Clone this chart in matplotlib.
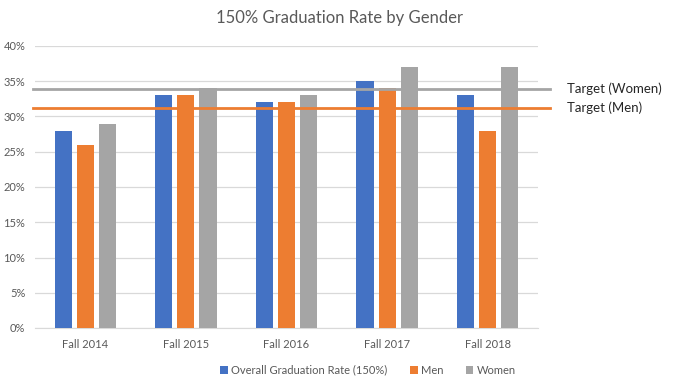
import numpy as np
import matplotlib
matplotlib.use("Agg")
import matplotlib.pyplot as plt

plt.rcParams["font.family"] = ["Lato", "DejaVu Sans"]

CATEGORIES = ["Fall 2014", "Fall 2015", "Fall 2016", "Fall 2017", "Fall 2018"]
OVERALL = [28, 33, 32, 35, 33]
MEN = [26, 33, 32, 34, 28]
WOMEN = [29, 34, 33, 37, 37]
TARGET_WOMEN = 33.9
TARGET_MEN = 31.2

SERIES = [
    ("Overall Graduation Rate (150%)", OVERALL, "#4472C4"),
    ("Men", MEN, "#ED7D31"),
    ("Women", WOMEN, "#A5A5A5"),
]
TEXT = "#595959"

fig = plt.figure(figsize=(6.78, 3.83), dpi=100)
ax = fig.add_axes([35 / 678, 1 - 328 / 383, 503 / 678, 282 / 383])

x = np.arange(len(CATEGORIES))
width = 0.17
step = 0.22
handles = []
for i, (name, vals, color) in enumerate(SERIES):
    h = ax.bar(x + (i - 1) * step, np.array(vals) / 100, width=width,
               color=color, label=name, zorder=3)
    handles.append(h)

ax.set_xlim(-0.5, len(CATEGORIES) - 0.5)
ax.set_ylim(0, 0.40)
ax.set_yticks(np.arange(0, 0.41, 0.05))
ax.set_yticklabels([f"{int(round(v * 100))}%" for v in np.arange(0, 0.41, 0.05)])
ax.set_xticks(x, CATEGORIES)
ax.grid(axis="y", color="#D9D9D9", linewidth=0.9, zorder=0)
for s in ["top", "right", "left"]:
    ax.spines[s].set_visible(False)
ax.spines["bottom"].set_color("#D9D9D9")
ax.tick_params(axis="both", length=0, colors=TEXT, labelsize=8)
ax.tick_params(axis="y", pad=7)
ax.tick_params(axis="x", pad=8)

# target lines run a little past the plot area
trans = ax.get_yaxis_transform()
for val, color, label in [(TARGET_WOMEN, "#A5A5A5", "Target (Women)"),
                          (TARGET_MEN, "#ED7D31", "Target (Men)")]:
    ax.plot([-0.004, 1.024], [val / 100, val / 100], color=color,
            linewidth=2, transform=trans, clip_on=False, zorder=4)
    ax.text(1.057, val / 100, label, transform=trans, color="#262626",
            fontsize=9.5, va="center", ha="left")

fig.text(339 / 678, 1 - 18 / 383, "150% Graduation Rate by Gender",
         ha="center", va="center", fontsize=12, color=TEXT)

fig.legend(handles=handles, loc="center", bbox_to_anchor=(368 / 678, 1 - 370 / 383),
           ncol=3, frameon=False, fontsize=8, labelcolor=TEXT,
           handlelength=0.7, handleheight=0.7, handletextpad=0.3,
           columnspacing=2.0)

fig.savefig("out.png", dpi=100)
